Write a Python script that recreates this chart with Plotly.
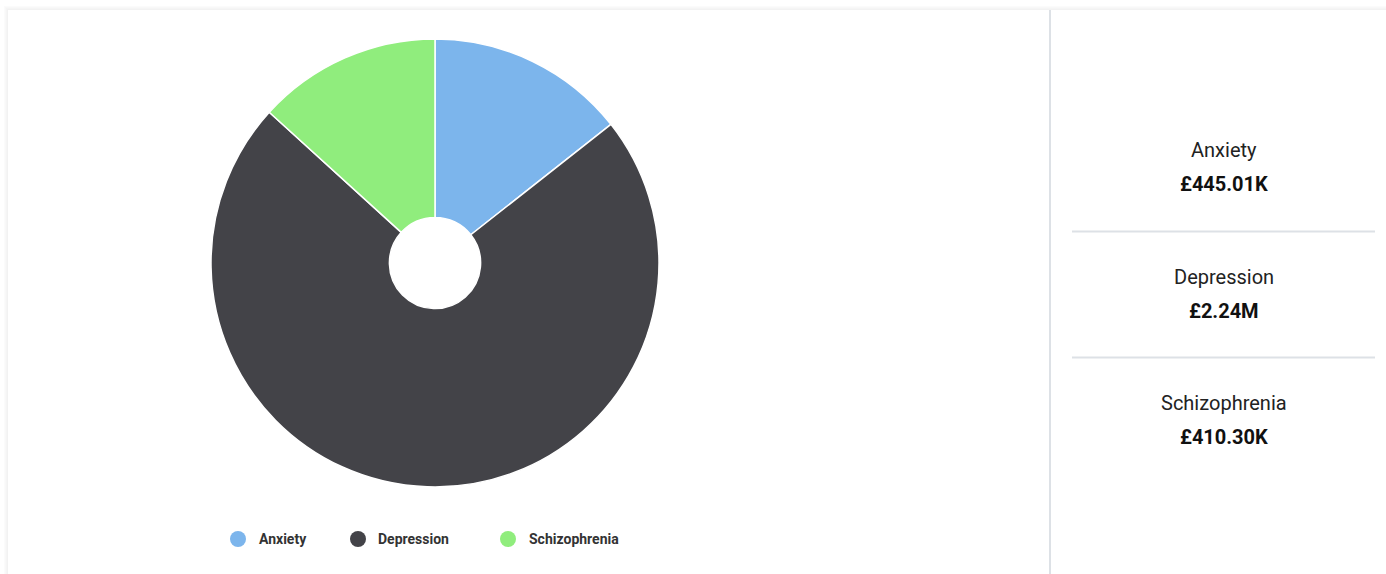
import plotly.graph_objects as go

# ---- data ----
categories = ["Anxiety", "Depression", "Schizophrenia"]
costs_gbp = [445010, 2240000, 410300]
cost_labels = ["£445.01K", "£2.24M", "£410.30K"]
colors = ["#7cb5ec", "#434348", "#90ed7d"]

# ---- canvas ----
W, H = 1386, 574


def px(x):
    return x / W


def py(y):
    return 1 - y / H


# pie geometry (pixels)
PIE_CX, PIE_CY, PIE_R = 435, 263, 224
HOLE_R = 45.6

fig = go.Figure()

fig.add_trace(go.Pie(
    labels=categories,
    values=costs_gbp,
    marker=dict(colors=colors, line=dict(color="#ffffff", width=1.5)),
    sort=False,
    direction="clockwise",
    rotation=0,
    hole=HOLE_R / PIE_R,
    textinfo="none",
    hoverinfo="label+value",
    showlegend=False,
    domain=dict(
        x=[px(PIE_CX - PIE_R), px(PIE_CX + PIE_R)],
        y=[py(PIE_CY + PIE_R), py(PIE_CY - PIE_R)],
    ),
))

shapes = []
annotations = []

# card with a soft drop shadow
CARD_X, CARD_Y = 8, 10
for i, c in enumerate(["#fbfbfb", "#f8f8f8", "#f5f5f5", "#f2f2f2"]):
    off = 4 - i
    shapes.append(dict(type="rect", xref="paper", yref="paper", layer="below",
                       x0=px(CARD_X - off), x1=1.01, y0=-0.01, y1=py(CARD_Y - off),
                       line=dict(width=0), fillcolor=c))
shapes.append(dict(type="rect", xref="paper", yref="paper", layer="below",
                   x0=px(CARD_X), x1=1.01, y0=-0.01, y1=py(CARD_Y),
                   line=dict(width=0), fillcolor="#ffffff"))

# vertical divider between chart and summary panel
shapes.append(dict(type="line", xref="paper", yref="paper",
                   x0=px(1050), x1=px(1050), y0=-0.01, y1=py(CARD_Y),
                   line=dict(color="#dde1e6", width=2)))

# legend (circle swatch + bold label)
legend_marker_x = [238, 358, 508]
legend_text_x = [257, 376, 527]
LEGEND_Y = 539
for name, col, mx, tx in zip(categories, colors, legend_marker_x, legend_text_x):
    shapes.append(dict(type="circle", xref="paper", yref="paper",
                       x0=px(mx - 8), x1=px(mx + 8),
                       y0=py(LEGEND_Y + 8), y1=py(LEGEND_Y - 8),
                       line=dict(width=0), fillcolor=col))
    annotations.append(dict(x=px(tx), y=py(LEGEND_Y), xref="paper", yref="paper",
                            text=f"<b>{name}</b>", showarrow=False,
                            xanchor="left", yanchor="middle",
                            font=dict(family="Roboto", size=14, color="#333333")))

# summary panel: category name and total cost
PANEL_CX = 1223.5
row_label_y = [150, 277, 403]
row_value_y = [184, 311, 437]
for name, val, ly, vy in zip(categories, cost_labels, row_label_y, row_value_y):
    annotations.append(dict(x=px(PANEL_CX), y=py(ly), xref="paper", yref="paper",
                            text=name, showarrow=False,
                            xanchor="center", yanchor="middle",
                            font=dict(family="Roboto", size=20, color="#222222")))
    annotations.append(dict(x=px(PANEL_CX), y=py(vy), xref="paper", yref="paper",
                            text=f"<b>{val}</b>", showarrow=False,
                            xanchor="center", yanchor="middle",
                            font=dict(family="Roboto", size=20, color="#111111")))

for sy in [231.5, 357.5]:
    shapes.append(dict(type="line", xref="paper", yref="paper",
                       x0=px(1072), x1=px(1375), y0=py(sy), y1=py(sy),
                       line=dict(color="#dde1e6", width=2)))

fig.update_layout(
    width=W, height=H,
    margin=dict(l=0, r=0, t=0, b=0),
    paper_bgcolor="#ffffff",
    plot_bgcolor="#ffffff",
    shapes=shapes,
    annotations=annotations,
    showlegend=False,
    font=dict(family="Roboto"),
)

fig.write_html("out.html", config={"displayModeBar": False})
